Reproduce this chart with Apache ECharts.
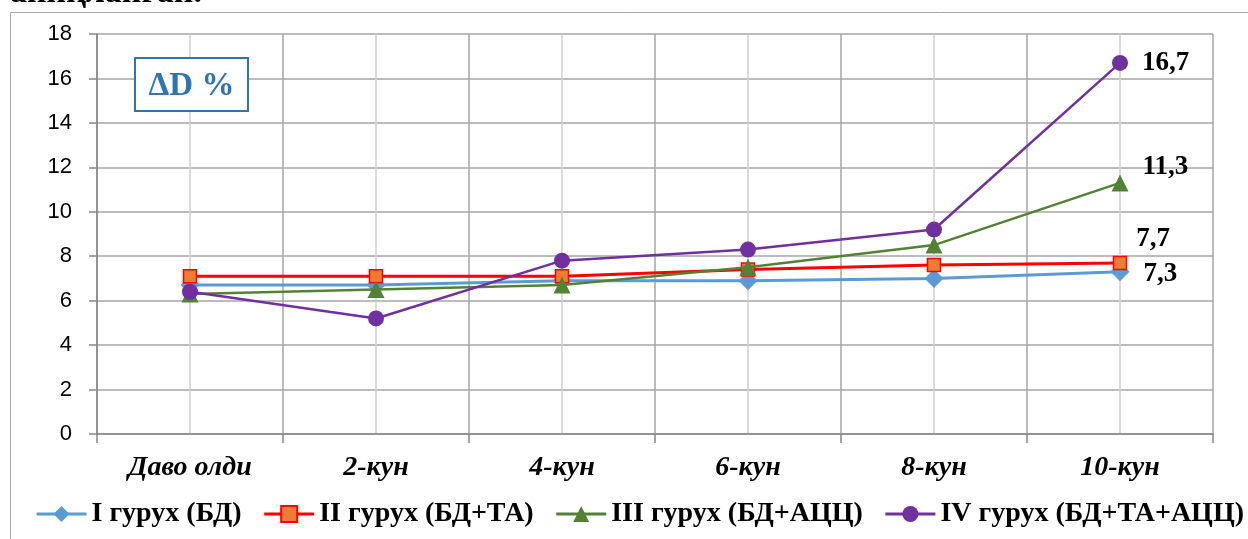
<!DOCTYPE html>
<html>
<head>
<meta charset="utf-8">
<script src="https://cdn.jsdelivr.net/npm/echarts@6/dist/echarts.min.js"></script>
<style>
  html, body { margin: 0; padding: 0; background: #ffffff; }
  #chart { width: 1248px; height: 539px; }
</style>
</head>
<body>
<div id="chart"></div>
<script>
// Observation days
const categories = ['Даво олди', '2-кун', '4-кун', '6-кун', '8-кун', '10-кун'];

// ΔD % by group
const group1 = [6.7, 6.7, 6.9, 6.9, 7.0, 7.3];   // I гурух (БД)
const group2 = [7.1, 7.1, 7.1, 7.4, 7.6, 7.7];   // II гурух (БД+ТА)
const group3 = [6.3, 6.5, 6.7, 7.5, 8.5, 11.3];  // III гурух (БД+АЦЦ)
const group4 = [6.4, 5.2, 7.8, 8.3, 9.2, 16.7];  // IV гурух (БД+ТА+АЦЦ)

const seriesNames = ['I гурух (БД)', 'II гурух (БД+ТА)', 'III гурух (БД+АЦЦ)', 'IV гурух (БД+ТА+АЦЦ)'];

// Y axis ticks
const yMin = 0, yMax = 18, yStep = 2;

const serif = '"Liberation Serif", "DejaVu Serif", serif';

// The last point of each line carries its value label
function withEndLabel(values, offset) {
  return values.map((v, i) => i === values.length - 1
    ? { value: v, label: { show: true, position: 'right', distance: 14, offset: offset,
        formatter: p => String(p.value).replace('.', ','),
        fontFamily: serif, fontWeight: 'bold', fontSize: 27, color: '#000' } }
    : v);
}

const chart = echarts.init(document.getElementById('chart'), null, { renderer: 'canvas' });

const gridLine = '#a6a6a6';
const axisLineColor = '#868686';

chart.setOption({
  animation: false,
  backgroundColor: '#ffffff',
  grid: { left: 97, top: 34, width: 1116, height: 400, containLabel: false },
  graphic: [
    // outer frame
    { type: 'rect', z: 0, shape: { x: 10.5, y: 12.5, width: 1400, height: 700 },
      style: { fill: 'none', stroke: '#a6a6a6', lineWidth: 1 } },
    // tail of the preceding paragraph line
    { type: 'text', left: 10, top: -24, z: 1,
      style: { text: 'аниқланган.', font: 'bold 34px "Liberation Serif"', fill: '#000' } },
    // ΔD % caption box
    { type: 'rect', z: 20, shape: { x: 135, y: 58, width: 113, height: 53 },
      style: { fill: '#ffffff', stroke: '#2E75B6', lineWidth: 2 } },
    { type: 'text', z: 21, x: 191.5, y: 86,
      style: { text: 'ΔD %', align: 'center', verticalAlign: 'middle',
        font: 'bold 33px "Liberation Serif"', fill: '#2E75B6' } }
  ],
  legend: {
    left: 30, top: 495, width: 1400,
    itemWidth: 50, itemHeight: 20, itemGap: 21,
    lineStyle: { width: 3 },
    textStyle: { fontFamily: serif, fontWeight: 'bold', fontSize: 28, color: '#000' },
    data: seriesNames
  },
  xAxis: [
    {
      type: 'category', data: categories, boundaryGap: true,
      axisLine: { show: true, lineStyle: { color: axisLineColor, width: 1.5 } },
      axisTick: { show: true, length: 9, lineStyle: { color: axisLineColor, width: 1.5 } },
      axisLabel: { margin: 20, color: '#000', fontFamily: serif, fontWeight: 'bold', fontStyle: 'italic', fontSize: 28 },
      splitLine: { show: false }
    },
    {
      // gridlines: category boundaries (major) and centres (minor)
      type: 'value', min: 0, max: 6, interval: 1, position: 'top',
      axisLine: { show: false }, axisTick: { show: false }, axisLabel: { show: false },
      splitLine: { show: true, lineStyle: { color: gridLine, width: 1.5 } },
      minorTick: { show: false, splitNumber: 2 },
      minorSplitLine: { show: true, lineStyle: { color: '#d0d0d0', width: 1.5 } }
    }
  ],
  yAxis: {
    type: 'value', min: yMin, max: yMax, interval: yStep,
    axisLine: { show: true, lineStyle: { color: axisLineColor, width: 1.5 } },
    axisTick: { show: true, length: 8, lineStyle: { color: axisLineColor, width: 1.5 } },
    axisLabel: { margin: 25, color: '#000', fontFamily: '"Liberation Sans", Arial, sans-serif', fontSize: 22 },
    splitLine: { show: true, lineStyle: { color: gridLine, width: 1.5 } }
  },
  series: [
    {
      name: seriesNames[0], type: 'line', xAxisIndex: 0, z: 3,
      data: withEndLabel(group1, [0, 2]),
      symbol: 'diamond', symbolSize: 19,
      lineStyle: { color: '#5B9BD5', width: 3 },
      itemStyle: { color: '#5B9BD5' }
    },
    {
      name: seriesNames[1], type: 'line', xAxisIndex: 0, z: 4,
      data: withEndLabel(group2, [-5, -24]),
      symbol: 'rect', symbolSize: 13,
      lineStyle: { color: '#FF0000', width: 3 },
      itemStyle: { color: '#ED7D31', borderColor: '#FF0000', borderWidth: 1.5 }
    },
    {
      name: seriesNames[2], type: 'line', xAxisIndex: 0, z: 5,
      data: withEndLabel(group3, [0, -16]),
      symbol: 'triangle', symbolSize: 17,
      lineStyle: { color: '#548235', width: 2.5 },
      itemStyle: { color: '#548235' }
    },
    {
      name: seriesNames[3], type: 'line', xAxisIndex: 0, z: 6,
      data: withEndLabel(group4, [0, 0]),
      symbol: 'circle', symbolSize: 16,
      lineStyle: { color: '#7030A0', width: 2.5 },
      itemStyle: { color: '#7030A0' }
    }
  ]
});
</script>
</body>
</html>
